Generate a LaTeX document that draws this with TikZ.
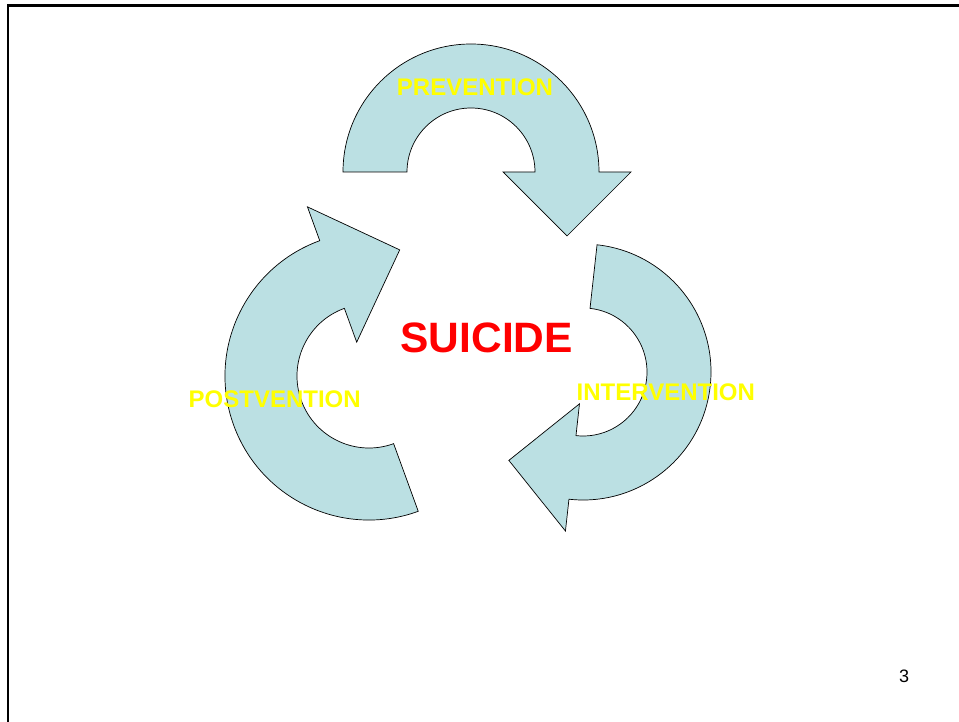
\documentclass[tikz,border=0pt]{standalone}
\usepackage{fontspec}
\setmainfont{Liberation Sans}
\definecolor{arrowfill}{RGB}{187,224,227}
\definecolor{labelyellow}{RGB}{255,255,0}
\definecolor{titlered}{RGB}{255,0,0}
\tikzset{
  curvedarrow/.style={fill=arrowfill, draw=black, line width=0.7pt, line join=miter},
  cyclelabel/.style={text=labelyellow, font=\fontsize{24}{26}\selectfont\bfseries, inner sep=0pt},
  frameline/.style={draw=black, line width=2.2pt}
}
\newcommand{\cyclearrow}{%
  (-128,0) arc[start angle=180, end angle=0, radius=128]
  -- (160,0) -- (96,-64) -- (32,0) -- (64,0)
  arc[start angle=0, end angle=180, radius=64] -- cycle}
\begin{document}
\begin{tikzpicture}[x=1pt,y=1pt]
\useasboundingbox (0,0) rectangle (959,721);
% slide frame
\coordinate (fb) at (8,-5);
\coordinate (fc) at (8,715.5);
\coordinate (fr) at (965,715.5);
\draw[frameline] (fb) -- (fc) -- (fr);
% arrows
\begin{scope}[shift={(471,549)}]
  \path[curvedarrow] \cyclearrow;
\end{scope}
\begin{scope}[shift={(583,349)}, rotate=-96.3]
  \path[curvedarrow] \cyclearrow;
\end{scope}
\begin{scope}[shift={(369,345)}, rotate=110, scale=1.125]
  \path[curvedarrow] \cyclearrow;
\end{scope}
% labels
\node[cyclelabel] (prev) at (475,633.8) {PREVENTION};
\node[cyclelabel] (post) at (274.7,321.3) {POSTVENTION};
\node[cyclelabel] (inter) at (665.8,328.3) {INTERVENTION};
\node[text=titlered, font=\fontsize{42.5}{46}\selectfont\bfseries, inner sep=0pt] (suicide) at (486.7,383) {SUICIDE};
\node[font=\fontsize{18}{20}\selectfont, inner sep=0pt] (page) at (904,44.3) {3};
\end{tikzpicture}
\end{document}
